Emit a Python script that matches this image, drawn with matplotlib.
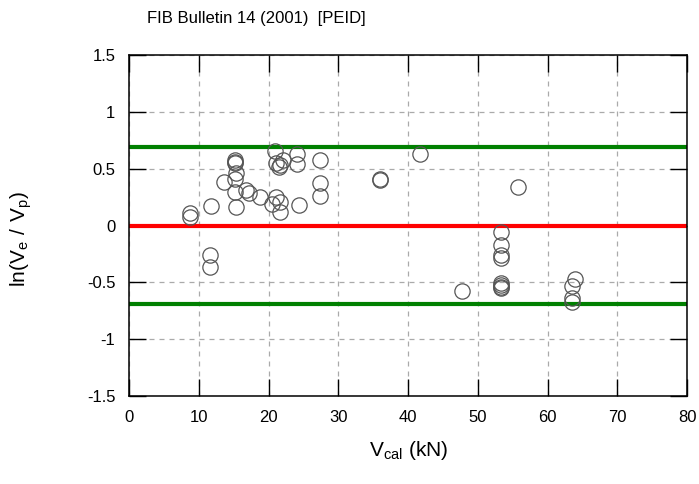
import numpy as np
import matplotlib
matplotlib.use("Agg")
import matplotlib.pyplot as plt

plt.rcParams["font.family"] = ["Liberation Sans", "DejaVu Sans"]

# Calculated shear strength (kN) and ln(Ve/Vp)
v_cal = [8.7, 8.7, 11.7, 11.6, 11.6, 13.6, 15.15, 15.15, 15.15, 15.3,
         15.15, 15.15, 15.3, 16.8, 17.1, 18.7, 20.4, 20.9, 21.1, 21.4,
         21.6, 21.1, 21.6, 21.6, 22.0, 24.0, 24.0, 24.3, 27.4, 27.4,
         27.4, 35.9, 35.9, 41.7, 55.7, 47.7, 53.25, 53.25, 53.25, 53.25,
         53.25, 53.25, 53.25, 53.25, 63.9, 63.5, 63.5, 63.5]
ln_ratio = [0.107, 0.074, 0.171, -0.261, -0.361, 0.378, 0.574, 0.559, 0.545, 0.457,
            0.413, 0.296, 0.165, 0.311, 0.282, 0.247, 0.188, 0.652, 0.545, 0.515,
            0.530, 0.252, 0.208, 0.121, 0.574, 0.632, 0.536, 0.180, 0.574, 0.375,
            0.258, 0.407, 0.398, 0.626, 0.340, -0.571, -0.060, -0.171, -0.258, -0.287,
            -0.506, -0.521, -0.536, -0.550, -0.471, -0.530, -0.637, -0.667]

x_ticks = [0, 10, 20, 30, 40, 50, 60, 70, 80]
y_ticks = [-1.5, -1, -0.5, 0, 0.5, 1, 1.5]
y_tick_labels = ["-1.5", "-1", "-0.5", "0", "0.5", "1", "1.5"]
limit = np.log(2)

fig = plt.figure(figsize=(6.99, 4.84), dpi=100)
ax = fig.add_axes([0.185, 0.181, 0.798, 0.706])

ax.axhline(limit, color="#008000", linewidth=3, zorder=2)
ax.axhline(-limit, color="#008000", linewidth=3, zorder=2)
ax.axhline(0, color="#ff0000", linewidth=3, zorder=2)

ax.plot(v_cal, ln_ratio, "o", markersize=11, markerfacecolor="none",
        markeredgecolor="#555555", markeredgewidth=0.9, zorder=3)

ax.set_xlim(0, 80)
ax.set_ylim(-1.5, 1.5)
ax.set_xticks(x_ticks)
ax.set_yticks(y_ticks)
ax.set_yticklabels(y_tick_labels)
ax.grid(True, color="#aaaaaa", linestyle=(0, (4, 4)), linewidth=0.9)
ax.tick_params(direction="in", length=12, width=1, top=True, right=True,
               labelsize=12, pad=10)
for s in ax.spines.values():
    s.set_linewidth(1.1)

ax.set_xlabel(r"$\mathregular{V_{cal}}$ (kN)", fontsize=15, labelpad=10)
ax.set_ylabel(r"$\mathregular{ln(V_e\ /\ V_p)}$", fontsize=15)
ax.yaxis.set_label_coords(-0.17, 0.46)
fig.text(0.367, 0.962, "FIB Bulletin 14 (2001)  [PEID]", ha="center", va="center",
         fontsize=12)

plt.savefig("out.png", dpi=100)
